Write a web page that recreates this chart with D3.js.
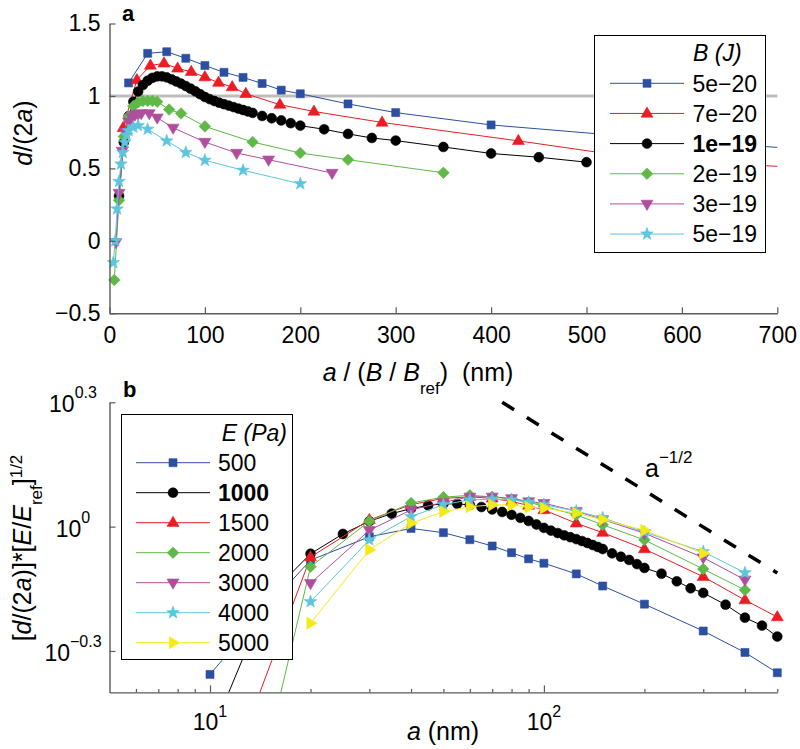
<!DOCTYPE html>
<html><head><meta charset="utf-8">
<script src="https://cdn.jsdelivr.net/npm/d3@7"></script>
<style>
body{margin:0;background:#fff}
svg{display:block}
text{font-family:"Liberation Sans",Arial,Helvetica,sans-serif;fill:#000}
</style>
</head><body>
<svg id="c" width="800" height="749"></svg>
<script>
// ---------------- DATA ----------------
// Panel a: d/(2a) vs a/(B/Bref), series by B (J)
const bLabels = ["5e\u221220","7e\u221220","1e\u221219","2e\u221219","3e\u221219","5e\u221219"];
const xTicksA = [0,100,200,300,400,500,600,700];
const xTickLabelsA = ["0","100","200","300","400","500","600","700"];
const yTicksA = [-0.5,0,0.5,1,1.5];
const yTickLabelsA = ["\u22120.5","0","0.5","1","1.5"];

const aBlueX = [20,40,60,80,100,120,140,160,180,200,250,300,400,600,800,1000];
const aBlueY = [1.09,1.294,1.305,1.26,1.21,1.163,1.128,1.086,1.04,1.015,0.945,0.885,0.80,0.69,0.60,0.55];
const aRedX = [14.3,28.6,42.9,57.1,71.4,85.7,100,114.3,128.6,142.9,178.6,214.3,285.7,428.6,571.4,714.3];
const aRedY = [0.78,1.11,1.21,1.225,1.19,1.167,1.13,1.092,1.062,1.015,0.94,0.893,0.817,0.69,0.555,0.51];
// B = 1e-19 (= Bref) and E = 1000 (= Eref): same series in both panels
const blackX = [10,15,20,25,30,35,40,45,50,55,60,65,70,75,80,85,90,95,100,105,110,115,120,125,130,135,140,145,150,160,170,180,190,200,225,250,275,300,350,400,450,500];
const blackY = [0.31,0.68,0.86,0.96,1.03,1.075,1.105,1.125,1.135,1.135,1.128,1.115,1.10,1.085,1.068,1.05,1.032,1.012,0.993,0.978,0.965,0.953,0.943,0.933,0.923,0.913,0.903,0.893,0.883,0.862,0.846,0.831,0.812,0.795,0.77,0.738,0.71,0.692,0.648,0.603,0.577,0.543];
const aGreenX = [5,10,15,20,25,30,35,40,45,50,62.5,75,100,150,200,250,350];
const aGreenY = [-0.27,0.28,0.72,0.86,0.93,0.955,0.965,0.966,0.966,0.96,0.906,0.879,0.79,0.682,0.606,0.56,0.47];
const aMagX = [6.67,10,13.3,16.7,20,23.3,26.7,30,33.3,41.7,50,66.7,100,133.3,166.7,233.3];
const aMagY = [-0.01,0.33,0.62,0.75,0.82,0.855,0.87,0.875,0.88,0.88,0.85,0.78,0.682,0.606,0.56,0.468];
const aCyanX = [4,6,8,10,12,14,16,18,20,25,30,40,60,80,100,140,200];
const aCyanY = [-0.15,0.0,0.22,0.41,0.53,0.61,0.68,0.73,0.76,0.785,0.795,0.77,0.69,0.61,0.556,0.487,0.394];

// Panel b: [d/(2a)]*[E/Eref]^(1/2) vs a, series by E (Pa)
const eLabels = ["500","1000","1500","2000","3000","4000","5000"];
const xMajorB = [10,100];
const xMajorExpB = ["1","2"];
const xMinorB = [6,7,8,9,20,30,40,50,60,70,80,90,200,300,400,500];
const yTickExpB = [-0.3,0,0.3];
const yTickLabelsB = ["\u22120.3","0","0.3"];

const eBlueA = [10,15,20,30,40,50,60,70,80,90,100,125,150,200,300,400,500];
const eBlueV = [0.44,0.645,0.83,0.945,0.99,0.967,0.93,0.898,0.865,0.836,0.816,0.769,0.719,0.65,0.56,0.497,0.444];
const eRedA = [10,20,30,40,50,60,70,80,90,100,125,150,200,300,400,500];
const eRedV = [0.19,0.844,1.038,1.13,1.17,1.18,1.17,1.15,1.125,1.097,1.019,0.967,0.883,0.757,0.665,0.605];
const eGreenA = [15,20,30,40,50,60,70,80,90,100,125,150,200,300,400];
const eGreenV = [0.30,0.80,1.03,1.14,1.178,1.19,1.18,1.165,1.145,1.12,1.067,1.01,0.929,0.79,0.703];
const eMagA = [20,30,40,50,60,70,80,90,100,125,150,200,300,400];
const eMagV = [0.73,0.98,1.097,1.145,1.18,1.18,1.17,1.15,1.139,1.09,1.04,0.964,0.842,0.744];
const eCyanA = [20,30,40,50,60,70,80,90,100,125,150,200,300,400];
const eCyanV = [0.659,0.929,1.057,1.13,1.16,1.165,1.16,1.145,1.13,1.09,1.05,0.97,0.87,0.774];
const eYelA = [20,30,40,50,60,70,80,90,100,125,150,200,300];
const eYelV = [0.585,0.879,1.019,1.087,1.117,1.128,1.128,1.114,1.109,1.078,1.04,0.98,0.862];

// a^(-1/2) guide line end points
const guideA = [75,500];
const guideV = [1.995,0.773];

// ---------------- STYLE ----------------
const C = {blue:"#2c4fa0",red:"#ea1d24",black:"#000000",green:"#5fb847",mag:"#b04e9e",cyan:"#5ec5de",yel:"#f4ea16"};
const AX = "#5a5a5a";
const TICKF = 23, LABF = 25, LEGF = 23;

const svg = d3.select("#c");

function starPath(R,r){
  let p=[];
  for(let i=0;i<10;i++){
    const ang=-Math.PI/2+i*Math.PI/5, rr=i%2?r:R;
    p.push([rr*Math.cos(ang),rr*Math.sin(ang)]);
  }
  return "M"+p.map(q=>q[0].toFixed(2)+","+q[1].toFixed(2)).join("L")+"Z";
}
const SHAPES = {
  square:"M-4,-4H4V4H-4Z",
  circle:d3.symbol(d3.symbolCircle,Math.PI*4.9*4.9)(),
  triUp:"M0,-6.5L6,3.7L-6,3.7Z",
  triDown:"M0,6.5L6,-3.7L-6,-3.7Z",
  triRight:"M6.5,0L-3.7,6L-3.7,-6Z",
  diamond:"M0,-5.8L5.8,0L0,5.8L-5.8,0Z",
  star:starPath(6.6,2.7)
};

function drawMarker(g,x,y,shape,color){
  g.append("path").attr("d",SHAPES[shape]).attr("transform",`translate(${x},${y})`)
   .attr("fill",color).attr("stroke",color).attr("stroke-width",0.6);
}

function drawSeries(g,clipId,xs,ys,xS,yS,shape,color){
  const pts = xs.map((x,i)=>[x,ys[i]]).filter(d=>!(yS.base==="log" && d[1]<=0));
  const line = d3.line().x(d=>xS(d[0])).y(d=>yS(d[1]));
  g.append("path").attr("d",line(pts)).attr("fill","none").attr("stroke",color)
   .attr("stroke-width",1).attr("clip-path",`url(#${clipId})`);
  const xd=xS.domain(), yd=yS.domain();
  pts.forEach(d=>{
    if(d[0]>=xd[0]-1e-9 && d[0]<=xd[1]+1e-9 && d[1]>=yd[0]-1e-9 && d[1]<=yd[1]+1e-9)
      drawMarker(g,xS(d[0]),yS(d[1]),shape,color);
  });
}

const defs = svg.append("defs");
function clip(id,x0,y0,x1,y1){
  defs.append("clipPath").attr("id",id).append("rect").attr("x",x0).attr("y",y0).attr("width",x1-x0).attr("height",y1-y0);
}

// ---------------- PANEL A ----------------
const L=109.5, R=777.3;
const xA = d3.scaleLinear([0,700],[L,R]);
const yA = d3.scaleLinear([-0.5,1.5],[313.3,23.5]);
clip("clipA",L,23.5,R,313.3);
const gA = svg.append("g");

// reference line at 1
gA.append("line").attr("x1",L).attr("x2",R).attr("y1",yA(1)).attr("y2",yA(1))
  .attr("stroke","#bdbdbd").attr("stroke-width",3);

drawSeries(gA,"clipA",aBlueX,aBlueY,xA,yA,"square",C.blue);
drawSeries(gA,"clipA",aRedX,aRedY,xA,yA,"triUp",C.red);
drawSeries(gA,"clipA",blackX,blackY,xA,yA,"circle",C.black);
drawSeries(gA,"clipA",aGreenX,aGreenY,xA,yA,"diamond",C.green);
drawSeries(gA,"clipA",aMagX,aMagY,xA,yA,"triDown",C.mag);
drawSeries(gA,"clipA",aCyanX,aCyanY,xA,yA,"star",C.cyan);

function styleAxis(g){
  g.selectAll("path.domain").attr("stroke",AX).attr("stroke-width",1.4);
  g.selectAll(".tick line").attr("stroke",AX).attr("stroke-width",1.2);
}
const axXA = svg.append("g").attr("transform",`translate(0,${yA(-0.5)})`)
  .call(d3.axisBottom(xA).tickValues(xTicksA).tickFormat((d,i)=>xTickLabelsA[i]).tickSizeInner(-6).tickSizeOuter(0).tickPadding(13));
const axYA = svg.append("g").attr("transform",`translate(${L},0)`)
  .call(d3.axisLeft(yA).tickValues(yTicksA).tickFormat((d,i)=>yTickLabelsA[i]).tickSizeInner(-6).tickSizeOuter(0).tickPadding(9));
[axXA,axYA].forEach(g=>{styleAxis(g);g.selectAll("text").attr("font-size",TICKF).attr("font-family",null).style("fill","#000");});

// labels panel a
svg.append("text").attr("x",122).attr("y",21).attr("font-size",22).attr("font-weight","bold").text("a");
const yla = svg.append("text").attr("transform","translate(32,133) rotate(-90)").attr("text-anchor","middle").attr("font-size",LABF);
yla.append("tspan").attr("font-style","italic").text("d");
yla.append("tspan").text("/(2");
yla.append("tspan").attr("font-style","italic").text("a");
yla.append("tspan").text(")");

const xla = svg.append("text").attr("x",418).attr("y",381).attr("text-anchor","middle").attr("font-size",LABF);
xla.append("tspan").attr("font-style","italic").text("a");
xla.append("tspan").text(" / (");
xla.append("tspan").attr("font-style","italic").text("B");
xla.append("tspan").text(" / ");
xla.append("tspan").attr("font-style","italic").text("B");
xla.append("tspan").attr("font-size",17).attr("dy",13).text("ref");
xla.append("tspan").attr("dy",-13).attr("font-size",LABF).text(")\u00a0\u00a0(nm)");

// legend a
const legA = svg.append("g");
legA.append("rect").attr("x",594.5).attr("y",35.5).attr("width",171).attr("height",217).attr("fill","#fff").attr("stroke","#000").attr("stroke-width",1);
legA.append("text").attr("x",693).attr("y",61).attr("font-size",LEGF).attr("font-style","italic").text("B (J)");
const legAShapes=["square","triUp","circle","diamond","triDown","star"];
const legAColors=[C.blue,C.red,C.black,C.green,C.mag,C.cyan];
bLabels.forEach((lab,i)=>{
  const y=83.3+i*30.15;
  legA.append("line").attr("x1",610).attr("x2",684).attr("y1",y).attr("y2",y).attr("stroke",legAColors[i]).attr("stroke-width",1);
  drawMarker(legA,647,y,legAShapes[i],legAColors[i]);
  legA.append("text").attr("x",692.5).attr("y",y+8.4).attr("font-size",LEGF).attr("font-weight",i===2?"bold":null).text(lab);
});

// ---------------- PANEL B ----------------
const xB = d3.scaleLog([5,500],[L,R]);
const yB = d3.scaleLog([Math.pow(10,-0.4),Math.pow(10,0.3)],[692.4,402.3]);
clip("clipB",L,402.3,R,692.4);
const gB = svg.append("g");

drawSeries(gB,"clipB",eBlueA,eBlueV,xB,yB,"square",C.blue);
drawSeries(gB,"clipB",blackX,blackY,xB,yB,"circle",C.black);
drawSeries(gB,"clipB",eRedA,eRedV,xB,yB,"triUp",C.red);
drawSeries(gB,"clipB",eGreenA,eGreenV,xB,yB,"diamond",C.green);
drawSeries(gB,"clipB",eMagA,eMagV,xB,yB,"triDown",C.mag);
drawSeries(gB,"clipB",eCyanA,eCyanV,xB,yB,"star",C.cyan);
drawSeries(gB,"clipB",eYelA,eYelV,xB,yB,"triRight",C.yel);

// guide line
gB.append("path").attr("d",d3.line().x(d=>xB(d[0])).y(d=>yB(d[1]))(guideA.map((a,i)=>[a,guideV[i]])))
  .attr("fill","none").attr("stroke","#000").attr("stroke-width",3.5).attr("stroke-dasharray","14,15");
const gt = svg.append("text").attr("x",645).attr("y",477).attr("font-size",LABF);
gt.append("tspan").text("a");
gt.append("tspan").attr("font-size",17).attr("dy",-14).text("\u22121/2");

// axes b
const axXB1 = svg.append("g").attr("transform",`translate(0,${yB.range()[0]})`)
  .call(d3.axisBottom(xB).tickValues(xMinorB).tickFormat("").tickSizeInner(-3.5).tickSizeOuter(0));
const axXB2 = svg.append("g").attr("transform",`translate(0,${yB.range()[0]})`)
  .call(d3.axisBottom(xB).tickValues(xMajorB).tickFormat("").tickSizeInner(-7).tickSizeOuter(0));
const axYB = svg.append("g").attr("transform",`translate(${L},0)`)
  .call(d3.axisLeft(yB).tickValues(yTickExpB.map(e=>Math.pow(10,e))).tickFormat("").tickSizeInner(-6).tickSizeOuter(0));
[axXB1,axXB2,axYB].forEach(styleAxis);
axXB2.select("path.domain").remove();

xMajorB.forEach((v,i)=>{
  const t=svg.append("text").attr("x",xB(v)).attr("y",730).attr("text-anchor","middle").attr("font-size",TICKF);
  t.append("tspan").text("10");
  t.append("tspan").attr("font-size",16).attr("dy",-13).text(xMajorExpB[i]);
});
yTickExpB.forEach((e,i)=>{
  const t=svg.append("text").attr("x",73).attr("y",yB(Math.pow(10,e))+10).attr("text-anchor","middle").attr("font-size",TICKF);
  t.append("tspan").text("10");
  t.append("tspan").attr("font-size",16).attr("dy",-14).text(yTickLabelsB[i]);
});

svg.append("text").attr("x",123).attr("y",396.5).attr("font-size",22).attr("font-weight","bold").text("b");

const xlb = svg.append("text").attr("x",443).attr("y",740).attr("text-anchor","middle").attr("font-size",LABF);
xlb.append("tspan").attr("font-style","italic").text("a");
xlb.append("tspan").text(" (nm)");

const ylb = svg.append("text").attr("transform","translate(31,548) rotate(-90)").attr("text-anchor","middle").attr("font-size",LABF);
ylb.append("tspan").text("[");
ylb.append("tspan").attr("font-style","italic").text("d");
ylb.append("tspan").text("/(2");
ylb.append("tspan").attr("font-style","italic").text("a");
ylb.append("tspan").text(")]*[");
ylb.append("tspan").attr("font-style","italic").text("E");
ylb.append("tspan").text("/");
ylb.append("tspan").attr("font-style","italic").text("E");
ylb.append("tspan").attr("font-size",17).attr("dy",11).text("ref");
ylb.append("tspan").attr("font-size",LABF).attr("dy",-11).text("]");
ylb.append("tspan").attr("font-size",17).attr("dy",-9).text("1/2");

// legend b
const legB = svg.append("g");
legB.append("rect").attr("x",121.5).attr("y",414.5).attr("width",171).attr("height",245).attr("fill","#fff").attr("stroke","#000").attr("stroke-width",1);
legB.append("text").attr("x",287).attr("y",441).attr("text-anchor","end").attr("font-size",LEGF).attr("font-style","italic").text("E (Pa)");
const legBShapes=["square","circle","triUp","diamond","triDown","star","triRight"];
const legBColors=[C.blue,C.black,C.red,C.green,C.mag,C.cyan,C.yel];
eLabels.forEach((lab,i)=>{
  const y=462.7+i*30;
  legB.append("line").attr("x1",136).attr("x2",210).attr("y1",y).attr("y2",y).attr("stroke",legBColors[i]).attr("stroke-width",1);
  drawMarker(legB,173,y,legBShapes[i],legBColors[i]);
  legB.append("text").attr("x",218).attr("y",y+8.4).attr("font-size",LEGF).attr("font-weight",i===1?"bold":null).text(lab);
});
</script>
</body></html>
